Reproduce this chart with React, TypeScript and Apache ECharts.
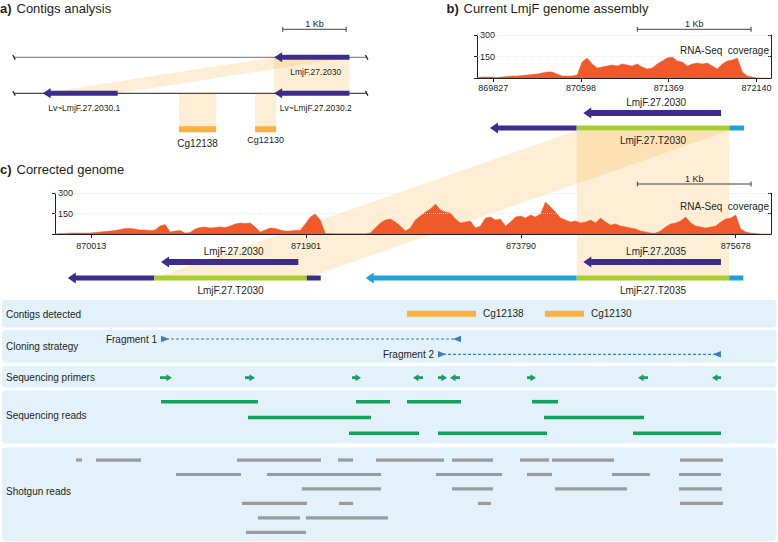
import React, { useEffect, useRef } from 'react';
import * as echarts from 'echarts';

// ---------------- styles ----------------
const FONT = '"Liberation Sans", Arial, Helvetica, sans-serif';
const TEXT = '#231f20';
const DARK = '#3b2c8e';
const CDS = '#a6ce2e';
const CYAN = '#1ea2d7';
const CONTIG = '#fbb040';
const COVER = '#f05a2b';
const GREEN = '#16a15c';
const GREY = '#9b9b9b';
const FRAG = '#3e7dc1';
const SHADE = 'rgba(251,176,64,0.22)';
const TRACK_BG = '#e3f1fa';
const SEG_COLOR: Record<string, string> = { dark: DARK, cds: CDS, cyan: CYAN };

// ---------------- a) Contigs analysis (bp along the contigs) ----------------
const A_LENGTH = 5570;
const aSequences = [
  { row: 0, start: 0, end: 5570 },
  { row: 1, start: 0, end: 5570 },
];
const aGenes = [
  { name: 'LmjF.27.2030', start: 4108, end: 5298, row: 0 },
  { name: 'Lv~LmjF.27.2030.1', start: 453, end: 1638, row: 1 },
  { name: 'Lv~LmjF.27.2030.2', start: 4108, end: 5298, row: 1 },
];
const aContigs = [
  { name: 'Cg12138', start: 2607, end: 3192, row: 2 },
  { name: 'Cg12130', start: 3808, end: 4140, row: 2 },
];
const aContigLabelStyle = [
  { size: 10, dy: 14.5 },
  { size: 9, dy: 11 },
];
const aLinks = [
  { from: [4108, 5298, 0], to: [4108, 5298, 1] },
  { from: [4108, 5298, 0], to: [453, 1638, 1] },
  { from: [2607, 3192, 1], to: [2607, 3192, 2] },
  { from: [3808, 4140, 1], to: [3808, 4140, 2] },
];
const aScaleBar = [4245, 5245];

// ---------------- b) Current LmjF genome assembly ----------------
const B_MIN = 869684;
const B_MAX = 872268;
const bTicks = [869827, 870598, 871369, 872140];
const COV_STEP = 44;
const bCoverageStart = 869684;
const bCoverage = [
  3, 7, 7, 7, 3, 7, 10, 14, 14, 17,
  21, 24, 28, 35, 42, 42, 28, 14, 14, 14,
  21, 112, 140, 98, 70, 77, 84, 91, 84, 98,
  91, 84, 98, 77, 63, 70, 98, 119, 140, 147,
  119, 112, 84, 98, 105, 98, 105, 84, 63, 98,
  119, 126, 140, 42, 14, 7, 0, 0, 0,
];
const bGenes = [{ name: 'LmjF.27.2030', start: 870618, end: 871829 }];
const bTranscripts = [
  { name: 'LmjF.27.T2030', segments: [[869798, 870560, 'dark'], [870560, 871902, 'cds'], [871902, 872031, 'cyan']] },
];
const bScaleBar = [871093, 872093];

// ---------------- c) Corrected genome ----------------
const C_MIN = 869694;
const C_MAX = 875988;
const cTicks = [870013, 871901, 873790, 875678];
const cCoverageStart = 869694;
const cCoverage = [
  0, 4, 4, 7, 7, 7, 7, 7, 11, 15,
  18, 22, 26, 33, 40, 41, 37, 30, 29, 26,
  30, 59, 70, 15, 22, 26, 7, 11, 37, 48,
  52, 44, 48, 52, 48, 59, 74, 81, 77, 81,
  52, 15, 30, 44, 41, 30, 22, 22, 26, 26,
  74, 125, 147, 103, 4, 4, 2, 2, 2, 2,
  2, 2, 2, 7, 44, 81, 103, 111, 88, 59,
  22, 44, 103, 133, 162, 184, 221, 177, 162, 155,
  111, 81, 88, 96, 44, 59, 118, 125, 103, 111,
  59, 88, 125, 133, 118, 140, 125, 147, 236, 199,
  162, 118, 103, 88, 96, 81, 88, 103, 81, 118,
  88, 66, 74, 59, 52, 44, 37, 22, 15, 7,
  7, 22, 52, 74, 81, 96, 125, 81, 59, 52,
  44, 52, 59, 88, 111, 118, 140, 37, 15, 7,
  4, 0, 0, 0,
];
const cGenes = [
  { name: 'LmjF.27.2030', start: 870626, end: 871833 },
  { name: 'LmjF.27.2035', start: 874338, end: 875548 },
];
const cTranscripts = [
  { name: 'LmjF.27.T2030', segments: [[869806, 870567, 'dark'], [870567, 871907, 'cds'], [871907, 872030, 'dark']] },
  { name: 'LmjF.27.T2035', segments: [[872425, 874280, 'cyan'], [874280, 875621, 'cds'], [875621, 875745, 'cyan']] },
];
const cScaleBar = [874813, 875813];
// CDS of b) mapped to CDS copies in c)
const bcLinks = [
  { from: 'LmjF.27.T2030', to: 'LmjF.27.T2030' },
  { from: 'LmjF.27.T2030', to: 'LmjF.27.T2035' },
];

// ---------------- lower tracks (corrected genome coordinates) ----------------
const trackNames = ['Contigs detected', 'Cloning strategy', 'Sequencing primers', 'Sequencing reads', 'Shotgun reads'];
const contigsDetected = [
  { name: 'Cg12138', start: 872788, end: 873395 },
  { name: 'Cg12130', start: 874001, end: 874344 },
];
const fragments = [
  { name: 'Fragment 1', start: 870626, end: 873263, row: 0 },
  { name: 'Fragment 2', start: 873061, end: 875548, row: 1 },
];
// [start, end, strand]
const primers = [
  [870617, 870722, 1], [871364, 871452, 1], [872305, 872384, 1],
  [872841, 872929, -1], [873061, 873140, 1], [873166, 873254, -1],
  [873843, 873922, 1], [874819, 874907, -1], [875469, 875548, -1],
];
// [start, end, row]
const sequencingReads = [
  [870626, 871478, 0], [872340, 872639, 0], [872788, 873263, 0], [873887, 874116, 0],
  [871391, 872472, 1], [873993, 874872, 1],
  [872278, 872894, 2], [873061, 874019, 2], [874775, 875548, 2],
];
const shotgunReads = [
  [869879, 869931, 0], [870054, 870450, 0], [871294, 872032, 0], [872182, 872314, 0], [872516, 873114, 0],
  [873184, 873544, 0], [873782, 874037, 0], [874063, 874608, 0], [875188, 875566, 0],
  [870758, 871329, 1], [871558, 872560, 1], [873043, 873623, 1], [873843, 874063, 1], [874590, 874924, 1], [875179, 875548, 1],
  [871865, 872560, 2], [873184, 873544, 2], [874089, 874722, 2], [875179, 875557, 2],
  [871338, 871909, 3], [872191, 872314, 3], [873412, 873527, 3], [875188, 875566, 3],
  [871478, 871848, 4], [871900, 872621, 4],
  [871373, 871900, 5],
];

// ---------------- helpers ----------------
type Pt = number[];
function arrowPoints(base: number, tip: number, y: number, bodyH: number, headH: number, headL: number): Pt[] {
  const d = tip >= base ? 1 : -1;
  const hl = Math.min(headL, Math.abs(tip - base));
  const hx = tip - d * hl;
  return [
    [tip, y], [hx, y - headH / 2], [hx, y - bodyH / 2], [base, y - bodyH / 2],
    [base, y + bodyH / 2], [hx, y + bodyH / 2], [hx, y + headH / 2],
  ];
}
function txt(str: string, x: number, y: number, size: number, align = 'center', color = TEXT): any {
  return {
    type: 'text', silent: true,
    style: { text: str, x, y, fill: color, fontSize: size, fontFamily: FONT, align, verticalAlign: 'middle' },
  };
}
function custom(axis: number, data: any[], renderItem: any, z = 3): any {
  return { type: 'custom', xAxisIndex: axis, yAxisIndex: axis, silent: true, clip: false, z, data, renderItem };
}
function scaleBarSeries(axis: number, bar: number[], offset: number): any {
  return custom(axis, [[bar[0], bar[1]]], (p: any, api: any) => {
    const cs = p.coordSys;
    const x1 = api.coord([bar[0], 0])[0];
    const x2 = api.coord([bar[1], 0])[0];
    const y = cs.y - offset;
    const st = { stroke: '#414042', lineWidth: 1 };
    return {
      type: 'group', children: [
        { type: 'line', shape: { x1, y1: y, x2, y2: y }, style: st },
        { type: 'line', shape: { x1, y1: y - 2.5, x2: x1, y2: y + 2.5 }, style: st },
        { type: 'line', shape: { x1: x2, y1: y - 2.5, x2, y2: y + 2.5 }, style: st },
        txt('1 Kb', (x1 + x2) / 2, y - 5.5, 9),
      ],
    };
  });
}
function geneSeries(axis: number, genes: any[]): any {
  return custom(axis, genes.map((g) => [g.start, g.end]), (p: any, api: any) => {
    const g = genes[p.dataIndex];
    const [xs, y] = api.coord([g.start, 1]);
    const xe = api.coord([g.end, 1])[0];
    return {
      type: 'group', children: [
        { type: 'polygon', shape: { points: arrowPoints(xe, xs, y, 6, 11, 8) }, style: { fill: DARK } },
        txt(g.name, (xs + 8 + xe) / 2, y - 11, 10),
      ],
    };
  });
}
function transcriptSeries(axis: number, transcripts: any[]): any {
  return custom(axis, transcripts.map((t) => [t.segments[0][0], t.segments[t.segments.length - 1][1]]), (p: any, api: any) => {
    const t = transcripts[p.dataIndex];
    const children: any[] = [];
    let y = 0;
    t.segments.forEach((seg: any[], i: number) => {
      const [xs, yy] = api.coord([seg[0], 2]);
      const xe = api.coord([seg[1], 2])[0];
      y = yy;
      const fill = SEG_COLOR[seg[2]];
      if (i === 0) {
        children.push({ type: 'polygon', shape: { points: arrowPoints(xe, xs, yy, 5, 11, 8) }, style: { fill } });
      } else {
        children.push({ type: 'rect', shape: { x: xs, y: yy - 2.5, width: xe - xs, height: 5 }, style: { fill } });
      }
    });
    const cds = t.segments.find((s: any[]) => s[2] === 'cds');
    const cx = (api.coord([cds[0], 2])[0] + api.coord([cds[1], 2])[0]) / 2;
    children.push(txt(t.name, cx, y + 12, 10));
    return { type: 'group', children };
  });
}
function coverageSeries(axis: number, start: number, values: number[]): any {
  return {
    type: 'line', xAxisIndex: axis, yAxisIndex: axis, silent: true, z: 3,
    showSymbol: false, symbol: 'none',
    data: values.map((v, i) => [start + i * COV_STEP, v]),
    lineStyle: { color: COVER, width: 0.5 },
    areaStyle: { color: COVER, opacity: 1 },
    markLine: {
      silent: true, symbol: ['none', 'none'], label: { show: false },
      lineStyle: { color: 'rgba(255,255,255,0.6)', type: 'dotted', width: 1 },
      data: [{ yAxis: 150 }, { yAxis: 300 }],
    },
  };
}
function hiddenX(gi: number, min: number, max: number): any {
  return { type: 'value', gridIndex: gi, min, max, show: false };
}
function hiddenY(gi: number, min: number, max: number): any {
  return { type: 'value', gridIndex: gi, min, max, inverse: true, show: false };
}
function covX(gi: number, min: number, max: number, ticks: number[], margin: number): any {
  return {
    type: 'value', gridIndex: gi, min, max,
    axisLine: { show: true, onZero: false, lineStyle: { color: TEXT, width: 1 } },
    axisTick: { show: true, customValues: ticks, length: 4, lineStyle: { color: TEXT } },
    axisLabel: { show: true, customValues: ticks, margin, fontSize: 9, fontFamily: FONT, color: TEXT, formatter: (v: number) => String(v) },
    splitLine: { show: false },
  };
}
function covY(gi: number): any {
  return {
    type: 'value', gridIndex: gi, min: 0, max: 300, interval: 150,
    axisLine: { show: true, lineStyle: { color: TEXT, width: 1 } },
    axisTick: { show: true, length: 3, lineStyle: { color: TEXT } },
    axisLabel: { show: true, inside: true, margin: 3, fontSize: 9, fontFamily: FONT, color: TEXT, formatter: (v: number) => (v === 0 ? '' : String(v)) },
    splitLine: { show: true, lineStyle: { color: '#cfcfcf', type: 'dotted', width: 1 } },
  };
}
function covYRight(gi: number): any {
  return {
    type: 'value', gridIndex: gi, position: 'right', min: 0, max: 300, interval: 150,
    axisLine: { show: true, lineStyle: { color: TEXT, width: 1 } },
    axisTick: { show: true, inside: true, length: 3, lineStyle: { color: TEXT } },
    axisLabel: { show: false }, splitLine: { show: false },
  };
}

function buildOption(): any {
  const grids = [
    { left: 14, width: 352.7, top: 39.3, height: 108 },
    { left: 477, width: 294, top: 35, height: 43 },
    { left: 477, width: 294, top: 98, height: 45 },
    { left: 55, width: 716, top: 193.3, height: 40.7 },
    { left: 55, width: 716, top: 246, height: 48 },
    { left: 55, width: 716, top: 300, height: 27.7 },
    { left: 55, width: 716, top: 331.35, height: 30.6 },
    { left: 55, width: 716, top: 367, height: 21.3 },
    { left: 55, width: 716, top: 393.8, height: 47.4 },
    { left: 55, width: 716, top: 452.8, height: 86.8 },
  ].map((g) => ({ ...g, containLabel: false, outerBoundsMode: 'none', show: false }));

  const xAxis = [
    hiddenX(0, 0, A_LENGTH),
    covX(1, B_MIN, B_MAX, bTicks, 5),
    hiddenX(2, B_MIN, B_MAX),
    covX(3, C_MIN, C_MAX, cTicks, 7),
    hiddenX(4, C_MIN, C_MAX),
    hiddenX(5, C_MIN, C_MAX),
    hiddenX(6, C_MIN, C_MAX),
    hiddenX(7, C_MIN, C_MAX),
    hiddenX(8, C_MIN, C_MAX),
    hiddenX(9, C_MIN, C_MAX),
  ];
  const yAxis = [
    hiddenY(0, -0.5, 2.5),
    covY(1),
    hiddenY(2, 0, 3),
    covY(3),
    hiddenY(4, 0, 3),
    hiddenY(5, -0.5, 0.5),
    hiddenY(6, -0.5, 1.5),
    hiddenY(7, -0.5, 0.5),
    hiddenY(8, -0.5, 2.5),
    hiddenY(9, -0.5, 5.5),
    covYRight(1),
    covYRight(3),
  ];

  const series: any[] = [
    // ---- panel a
    custom(0, aLinks.map((l) => [l.from[0], l.from[2]]), (p: any, api: any) => {
      const l = aLinks[p.dataIndex];
      const pts = [
        api.coord([l.from[0], l.from[2]]), api.coord([l.from[1], l.from[2]]),
        api.coord([l.to[1], l.to[2]]), api.coord([l.to[0], l.to[2]]),
      ];
      return { type: 'polygon', shape: { points: pts }, style: { fill: SHADE } };
    }, 1),
    custom(0, aSequences.map((s) => [s.start, s.row]), (p: any, api: any) => {
      const s = aSequences[p.dataIndex];
      const [x1, y] = api.coord([s.start, s.row]);
      const x2 = api.coord([s.end, s.row])[0];
      const color = s.row === 0 ? '#6d6e71' : TEXT;
      const tick = { stroke: TEXT, lineWidth: 1.3 };
      return {
        type: 'group', children: [
          { type: 'line', shape: { x1, y1: y, x2, y2: y }, style: { stroke: color, lineWidth: 1 } },
          { type: 'line', shape: { x1: x1 - 1.2, y1: y - 2.3, x2: x1 + 1.2, y2: y + 2.3 }, style: tick },
          { type: 'line', shape: { x1: x2 - 1.2, y1: y - 2.3, x2: x2 + 1.2, y2: y + 2.3 }, style: tick },
        ],
      };
    }, 2),
    custom(0, aGenes.map((g) => [g.start, g.row]), (p: any, api: any) => {
      const g = aGenes[p.dataIndex];
      const [xs, y] = api.coord([g.start, g.row]);
      const xe = api.coord([g.end, g.row])[0];
      return {
        type: 'group', children: [
          { type: 'polygon', shape: { points: arrowPoints(xe, xs, y, 5, 10, 8) }, style: { fill: DARK } },
          txt(g.name, (xs + 8 + xe) / 2, y + 14.4, 8.5),
        ],
      };
    }),
    custom(0, aContigs.map((c) => [c.start, c.row]), (p: any, api: any) => {
      const c = aContigs[p.dataIndex];
      const ls = aContigLabelStyle[p.dataIndex];
      const [x1, y] = api.coord([c.start, c.row]);
      const x2 = api.coord([c.end, c.row])[0];
      return {
        type: 'group', children: [
          { type: 'rect', shape: { x: x1, y: y - 3, width: x2 - x1, height: 6 }, style: { fill: CONTIG } },
          txt(c.name, (x1 + x2) / 2, y + ls.dy, ls.size),
        ],
      };
    }),
    scaleBarSeries(0, aScaleBar, 10),

    // ---- panel b
    coverageSeries(1, bCoverageStart, bCoverage),
    scaleBarSeries(1, bScaleBar, 5.7),
    geneSeries(2, bGenes),
    transcriptSeries(2, bTranscripts),

    // ---- panel c
    coverageSeries(3, cCoverageStart, cCoverage),
    scaleBarSeries(3, cScaleBar, 9.3),
    geneSeries(4, cGenes),
    transcriptSeries(4, cTranscripts),

    // ---- tracks
    custom(5, contigsDetected.map((c) => [c.start, c.end]), (p: any, api: any) => {
      const c = contigsDetected[p.dataIndex];
      const [x1, y] = api.coord([c.start, 0]);
      const x2 = api.coord([c.end, 0])[0];
      return {
        type: 'group', children: [
          { type: 'rect', shape: { x: x1, y: y - 3, width: x2 - x1, height: 6 }, style: { fill: CONTIG } },
          txt(c.name, x2 + 7, y, 10, 'left'),
        ],
      };
    }),
    custom(6, fragments.map((f) => [f.start, f.end]), (p: any, api: any) => {
      const f = fragments[p.dataIndex];
      const [x1, y] = api.coord([f.start, f.row]);
      const x2 = api.coord([f.end, f.row])[0];
      return {
        type: 'group', children: [
          { type: 'line', shape: { x1, y1: y, x2, y2: y }, style: { stroke: FRAG, lineWidth: 1.2, lineDash: [3, 2] } },
          { type: 'polygon', shape: { points: [[x1, y - 3.3], [x1 + 8, y], [x1, y + 3.3]] }, style: { fill: FRAG } },
          { type: 'polygon', shape: { points: [[x2, y - 3.3], [x2 - 8, y], [x2, y + 3.3]] }, style: { fill: FRAG } },
          txt(f.name, x1 - 4, y, 10, 'right'),
        ],
      };
    }),
    custom(7, primers.map((pr) => [pr[0], pr[1]]), (p: any, api: any) => {
      const [s, e, strand] = primers[p.dataIndex];
      const [xs, y] = api.coord([s, 0]);
      const xe = api.coord([e, 0])[0];
      const base = strand > 0 ? xs : xe;
      const tip = strand > 0 ? xe : xs;
      return { type: 'polygon', shape: { points: arrowPoints(base, tip, y, 2.6, 7, 5.5) }, style: { fill: GREEN } };
    }),
    custom(8, sequencingReads.map((r) => [r[0], r[1]]), (p: any, api: any) => {
      const [s, e, row] = sequencingReads[p.dataIndex];
      const [x1, y] = api.coord([s, row]);
      const x2 = api.coord([e, row])[0];
      return { type: 'rect', shape: { x: x1, y: y - 1.8, width: x2 - x1, height: 3.6 }, style: { fill: GREEN } };
    }),
    custom(9, shotgunReads.map((r) => [r[0], r[1]]), (p: any, api: any) => {
      const [s, e, row] = shotgunReads[p.dataIndex];
      const [x1, y] = api.coord([s, row]);
      const x2 = api.coord([e, row])[0];
      return { type: 'rect', shape: { x: x1, y: y - 1.6, width: x2 - x1, height: 3.2 }, style: { fill: GREY } };
    }),
  ];

  return { animation: false, backgroundColor: '#ffffff', grid: grids, xAxis, yAxis, series };
}

function gText(str: string, x: number, y: number, size: number, align = 'left', weight = 'normal'): any {
  return {
    type: 'text', x, y, z: 10, silent: true,
    style: { text: str, fill: TEXT, fontSize: size, fontFamily: FONT, fontWeight: weight, align, verticalAlign: 'middle' },
  };
}

function buildGraphic(chart: any): any[] {
  const els: any[] = [];
  // lower track panels
  const panels = [
    { y: 300, h: 27.5, ly: 314.3 },
    { y: 330, h: 32.7, ly: 346.7 },
    { y: 365.7, h: 21.8, ly: 377.7 },
    { y: 390.6, h: 52.8, ly: 415 },
    { y: 447.6, h: 93.4, ly: 491.7 },
  ];
  panels.forEach((pn, i) => {
    els.push({ type: 'rect', z: 0, silent: true, shape: { x: 2, y: pn.y, width: 774.5, height: pn.h, r: 4 }, style: { fill: TRACK_BG } });
    els.push(gText(trackNames[i], 6, pn.ly, 10));
  });

  // titles
  els.push(gText('a)', 0, 8, 13, 'left', 'bold'), gText('Contigs analysis', 16.5, 8, 13));
  els.push(gText('b)', 446.5, 8, 13, 'left', 'bold'), gText('Current LmjF genome assembly', 463.5, 8, 13));
  els.push(gText('c)', 0, 169.5, 13, 'left', 'bold'), gText('Corrected genome', 16.5, 169.5, 13));

  // coverage captions
  els.push(gText('RNA-Seq  coverage', 769, 50, 10, 'right'));
  els.push(gText('RNA-Seq  coverage', 769, 206.7, 10, 'right'));

  // b) -> c) links between CDS copies
  const cdsOf = (list: any[], name: string) => list.find((t) => t.name === name).segments.find((s: any[]) => s[2] === 'cds');
  const yB = chart.convertToPixel({ yAxisIndex: 2 }, 2) + 2.5;
  const yC = chart.convertToPixel({ yAxisIndex: 4 }, 2);
  bcLinks.forEach((l) => {
    const f = cdsOf(bTranscripts, l.from);
    const t = cdsOf(cTranscripts, l.to);
    const pts = [
      [chart.convertToPixel({ xAxisIndex: 2 }, f[0]), yB],
      [chart.convertToPixel({ xAxisIndex: 2 }, f[1]), yB],
      [chart.convertToPixel({ xAxisIndex: 4 }, t[1]), yC],
      [chart.convertToPixel({ xAxisIndex: 4 }, t[0]), yC],
    ];
    els.push({ type: 'polygon', z: 0, silent: true, shape: { points: pts }, style: { fill: SHADE } });
  });
  return els;
}

export default function App() {
  const ref = useRef<HTMLDivElement>(null);
  useEffect(() => {
    const chart = echarts.init(ref.current as HTMLDivElement, undefined, { renderer: 'svg', width: 778, height: 542 });
    chart.setOption(buildOption());
    chart.setOption({ graphic: { elements: buildGraphic(chart) } });
    return () => chart.dispose();
  }, []);
  return (
    <div
      ref={ref}
      style={{ position: 'fixed', left: 0, top: 0, width: 778, height: 542, background: '#ffffff' }}
    />
  );
}
